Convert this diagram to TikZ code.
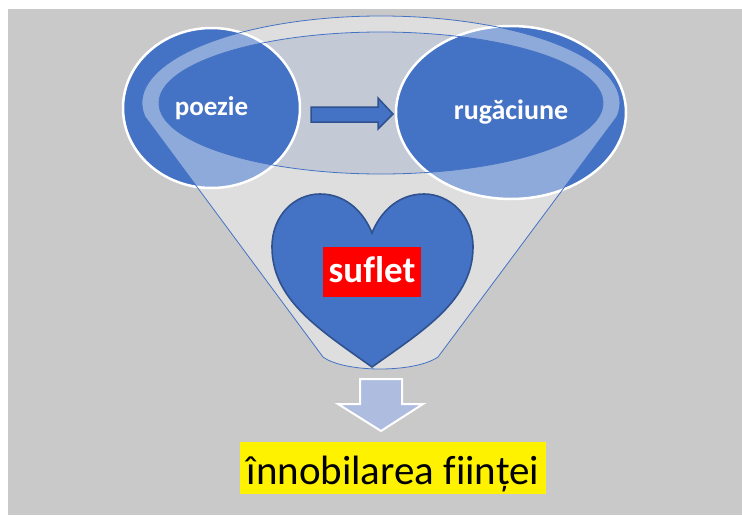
\documentclass[tikz,border=0pt]{standalone}
\usepackage{fontspec}
\setmainfont{Carlito}[Ligatures=NoCommon]
\usetikzlibrary{shapes.geometric}
\definecolor{bggray}{HTML}{C9C9C9}
\definecolor{oblue}{HTML}{4472C4}
\definecolor{dblue}{HTML}{2F528F}
\definecolor{innerfill}{HTML}{C4C9D6}
\definecolor{arrowfill}{HTML}{AEBCE0}
\tikzset{
  circnode/.style={ellipse, fill=oblue, draw=white, line width=2.5pt, inner sep=0pt,
    text=white, font=\bfseries\fontsize{27}{30}\selectfont},
  funnelline/.style={draw=oblue, line width=0.8pt},
  heartshape/.style={fill=oblue, draw=dblue, line width=1.6pt},
  sufletbox/.style={fill=red, text=white, inner sep=0pt, minimum width=98, minimum height=50,
    text height=22, text depth=2, font=\bfseries\fontsize{37}{40}\selectfont},
  resultbox/.style={fill=yellow, text=black, inner sep=0pt, minimum width=306, minimum height=52,
    text height=34, text depth=2, font=\fontsize{41}{44}\selectfont},
  smallarrow/.style={fill=oblue, draw=dblue, line width=1.5pt},
  downarrow/.style={fill=arrowfill, draw=white, line width=2pt}
}
\begin{document}
\begin{tikzpicture}[x=1pt,y=-1pt]
\useasboundingbox (0,0) rectangle (742,515);
\fill[white] (0,0) rectangle (742,515);
\fill[bggray] (8,9) rectangle (742,515);
% inner (back) of funnel
\fill[innerfill] (381,103) ellipse [x radius=222, y radius=71];
% circles
\node[circnode, minimum width=177, minimum height=160] (poezie) at (211.5,108) {poezie};
\node[circnode, minimum width=230, minimum height=173, font=\bfseries\fontsize{28}{30}\selectfont] (rug) at (511,112.5) {rugăciune};
% funnel translucent body
\fill[white, fill opacity=0.4, even odd rule]
  (144.9,116.6) arc[start angle=171, end angle=369, x radius=239, y radius=87]
  -- (438,357) .. controls (415,373) and (345,373) .. (323,357) -- cycle
  (381,103) ellipse [x radius=222, y radius=71];
\draw[funnelline]
  (144.9,116.6) arc[start angle=171, end angle=369, x radius=239, y radius=87]
  -- (438,357) .. controls (415,373) and (345,373) .. (323,357) -- cycle;
\draw[funnelline] (381,103) ellipse [x radius=222, y radius=71];
% arrow between circles
\draw[smallarrow] (311,107) -- (378,107) -- (378,98) -- (393,114) -- (378,129) -- (378,122) -- (311,122) -- cycle;
% heart
\draw[heartshape] (372,367) .. controls (320,330) and (272,300) .. (272,247)
  .. controls (272,215) and (295,194) .. (320,194)
  .. controls (348,194) and (365,215) .. (372,233)
  .. controls (379,215) and (396,194) .. (424,194)
  .. controls (449,194) and (473,215) .. (473,247)
  .. controls (473,300) and (424,330) .. (372,367) -- cycle;
\node[sufletbox] (suflet) at (372,272) {suflet};
% down arrow
\draw[downarrow] (360,379) -- (402,379) -- (402,404) -- (423,404) -- (381,431) -- (338,404) -- (360,404) -- cycle;
\node[resultbox] (result) at (393,468) {înnobilarea ființei};
\end{tikzpicture}
\end{document}
